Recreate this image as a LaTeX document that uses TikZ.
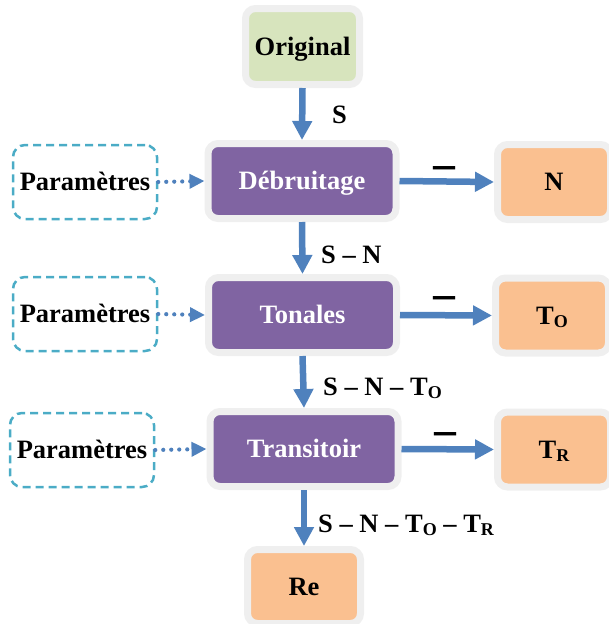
\documentclass[tikz,border=0pt]{standalone}
\usepackage{fontspec}
\setmainfont{Liberation Serif}
\usetikzlibrary{arrows.meta}
\definecolor{bgray}{HTML}{EFEFEF}
\definecolor{grn}{HTML}{D7E4BD}
\definecolor{purp}{HTML}{8064A2}
\definecolor{orng}{HTML}{FAC090}
\definecolor{ablue}{HTML}{4F81BD}
\definecolor{cyanb}{HTML}{4BACC6}
\newcommand{\lowsub}[1]{\raisebox{-3pt}{\fontsize{18}{18}\selectfont #1}}
\newcommand{\thickdash}{\scalebox{1}[2.2]{—}}
\tikzset{
  txt/.style={font=\fontsize{26.5}{30}\selectfont\bfseries},
  boxbase/.style={txt, draw=bgray, line width=7pt, rounded corners=10pt, inner sep=0pt,
    text height=17.5pt, text depth=0pt},
  greenbox/.style={boxbase, fill=grn, minimum width=114pt, minimum height=76pt},
  purplebox/.style={boxbase, fill=purp, text=white, minimum width=188pt, minimum height=75pt},
  orangebox/.style={boxbase, fill=orng, minimum width=113pt, minimum height=75pt},
  parambox/.style={txt, draw=cyanb, line width=2.5pt, dash pattern=on 8pt off 5pt,
    rounded corners=12pt, inner sep=0pt, minimum width=144pt, minimum height=74pt,
    text height=17.5pt, text depth=0pt},
  flow/.style={draw=ablue, line width=6.5pt, -{Triangle[length=19pt,width=19pt]}},
  dotflow/.style={draw=ablue, line width=4.2pt, line cap=round, dash pattern=on 0pt off 8pt,
    -{Triangle[length=15pt,width=14pt]}},
  lbl/.style={txt, fill=white, inner sep=1pt},
  dashlbl/.style={font=\fontsize{22}{22}\selectfont\bfseries, inner sep=0pt}
}
\begin{document}
\begin{tikzpicture}[x=1pt,y=-1pt]
\useasboundingbox (0,0) rectangle (608,624);
% boxes
\node[greenbox] (orig) at (302.5,46.5) {Original};
\node[purplebox] (deb) at (302,181) {Débruitage};
\node[purplebox] (ton) at (302.5,315) {Tonales};
\node[purplebox] (tra) at (304,449) {Transitoir};
\node[orangebox] (n) at (554,182) {N};
\node[orangebox] (to) at (552,315.5) {T\lowsub{O}};
\node[orangebox] (tr) at (554,449.5) {T\lowsub{R}};
\node[orangebox, minimum height=74pt] (re) at (304,586.5) {Re};
\node[parambox] (p1) at (85,182) {Paramètres};
\node[parambox] (p2) at (85,314) {Paramètres};
\node[parambox] (p3) at (82,450) {Paramètres};
% vertical arrows
\draw[flow] (orig.south) -- (deb.north);
\draw[flow] (deb.south) -- (ton.north);
\draw[flow] (ton.south) -- (tra.north);
\draw[flow] (tra.south) -- (re.north);
% horizontal arrows
\draw[flow] (deb.east) -- (n.west);
\draw[flow] (ton.east) -- (to.west);
\draw[flow] (tra.east) -- (tr.west);
% dotted arrows
\draw[dotflow] (p1.east) -- (deb.west);
\draw[dotflow] (p2.east) -- (ton.west);
\draw[dotflow] (p3.east) -- (tra.west);
% labels
\node[lbl, anchor=base west] (l1) at (331,123) {S};
\node[lbl, anchor=base west] (l2) at (320,263) {S – N};
\node[lbl, anchor=base west] (l3) at (322,395) {S – N – T\lowsub{O}};
\node[lbl, anchor=base west] (l4) at (317,532) {S – N – T\lowsub{O} – T\lowsub{R}};
\node[dashlbl, anchor=base] (d1) at (444,179) {\thickdash};
\node[dashlbl, anchor=base] (d2) at (444,309) {\thickdash};
\node[dashlbl, anchor=base] (d3) at (445,445) {\thickdash};
\end{tikzpicture}
\end{document}
